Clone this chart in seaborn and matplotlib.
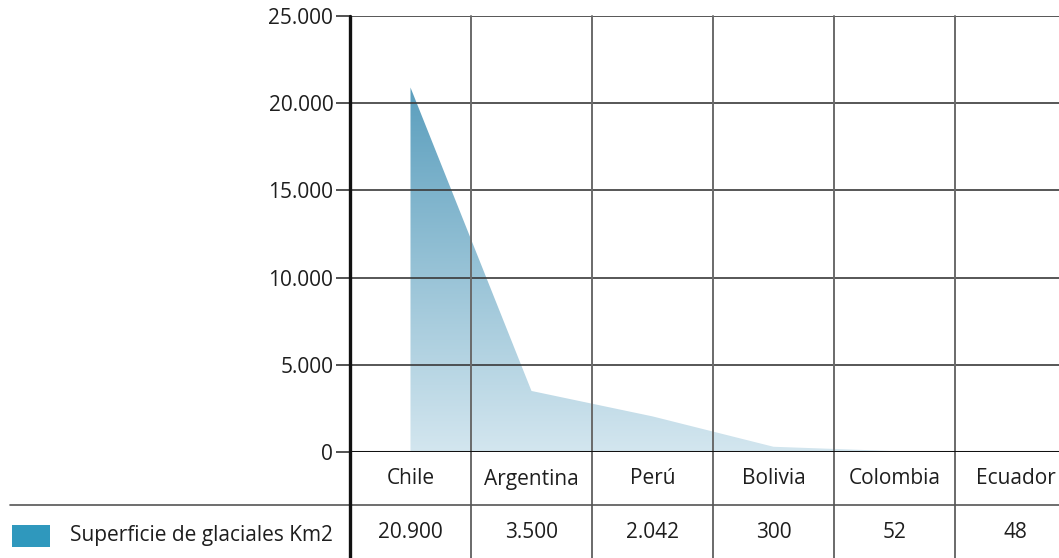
import numpy as np
import pandas as pd
import matplotlib
matplotlib.use("Agg")
import matplotlib.pyplot as plt
import seaborn as sns
from matplotlib.colors import LinearSegmentedColormap
from matplotlib.patches import Rectangle

# Glacier surface by country (km2)
countries = ["Chile", "Argentina", "Perú", "Bolivia", "Colombia", "Ecuador"]
surface_km2 = [20900, 3500, 2042, 300, 52, 48]
value_labels = ["20.900", "3.500", "2.042", "300", "52", "48"]
y_ticks = [0, 5000, 10000, 15000, 20000, 25000]
y_tick_labels = ["0", "5.000", "10.000", "15.000", "20.000", "25.000"]
series_name = "Superficie de glaciales Km2"

sns.set_style("white")
plt.rcParams["font.family"] = ["Open Sans", "DejaVu Sans"]
FS = 15
TXT = "#1e1e1e"

W, H = 1059, 558
fig = plt.figure(figsize=(W / 100, H / 100), dpi=100)
ax = fig.add_axes([350 / W, 1 - 452 / H, 1 - 350 / W, 436 / H])

df = pd.DataFrame({"pais": countries, "km2": surface_km2, "pos": np.arange(len(countries))})

col_w = 121.0
x_max = -0.5 + (W - 350) / col_w

# top edge of the area (no visible stroke) and the gradient-filled region below it
sns.lineplot(data=df, x="pos", y="km2", ax=ax, linewidth=0, color="#5a9ebd")
poly = ax.fill_between(df["pos"], df["km2"], 0, facecolor="none", edgecolor="none", zorder=1)
cmap = LinearSegmentedColormap.from_list("ice", ["#d3e6ef", "#5a9ebd"])
grad = np.linspace(0, 1, 256).reshape(-1, 1)
img = ax.imshow(grad, cmap=cmap, origin="lower", aspect="auto",
                extent=(-0.5, x_max, 0, 21000), zorder=1, interpolation="bilinear")
img.set_clip_path(poly.get_paths()[0], transform=ax.transData)
ax.set_xlim(-0.5, x_max)
ax.set_ylim(0, 25000)

# horizontal grid + tick labels
ax.set_yticks(y_ticks)
ax.set_yticklabels(y_tick_labels, fontsize=FS, color=TXT)
ax.tick_params(axis="y", length=10, width=1.2, color="#333333", pad=2, left=True)
ax.set_xticks([])
ax.set_xlabel("")
ax.set_ylabel("")
for v in y_ticks[1:]:
    ax.axhline(v, color="#3a3a3a", linewidth=1.2, zorder=2)
ax.axhline(0, color="#111111", linewidth=2.2, zorder=3)

for s in ["top", "right", "bottom", "left"]:
    ax.spines[s].set_visible(False)

xt = ax.get_xaxis_transform()
bottom_frac = -(H - 452) / 436
# column separators running through the table
for b in np.arange(0.5, len(countries) - 0.5, 1.0):
    ax.plot([b, b], [bottom_frac, 1], transform=xt, color="#6a6a6a",
            linewidth=1.4, clip_on=False, zorder=2)
# main vertical axis line
ax.plot([-0.5, -0.5], [bottom_frac, 1], transform=xt, color="#111111",
        linewidth=2.4, clip_on=False, zorder=4)

# table rows
row_line = -(505 - 452) / 436
ax.plot([-0.5 + (10 - 350) / col_w, x_max], [row_line, row_line], transform=xt,
        color="#555555", linewidth=1.2, clip_on=False, zorder=2)
row1 = -(479 - 452) / 436
row2 = -(532 - 452) / 436
for i, (name, lab) in enumerate(zip(countries, value_labels)):
    ax.text(i, row1, name, transform=xt, ha="center", va="center",
            fontsize=FS, color=TXT)
    ax.text(i, row2, lab, transform=xt, ha="center", va="center",
            fontsize=FS, color=TXT)

# legend swatch and series name
fig.patches.append(Rectangle((12 / W, 1 - 547 / H), 38 / W, 22 / H,
                             transform=fig.transFigure, facecolor="#2f98bd",
                             edgecolor="none"))
fig.text(70 / W, 1 - 536 / H, series_name, ha="left", va="center",
         fontsize=FS, color=TXT)

fig.savefig("out.png", dpi=100)
